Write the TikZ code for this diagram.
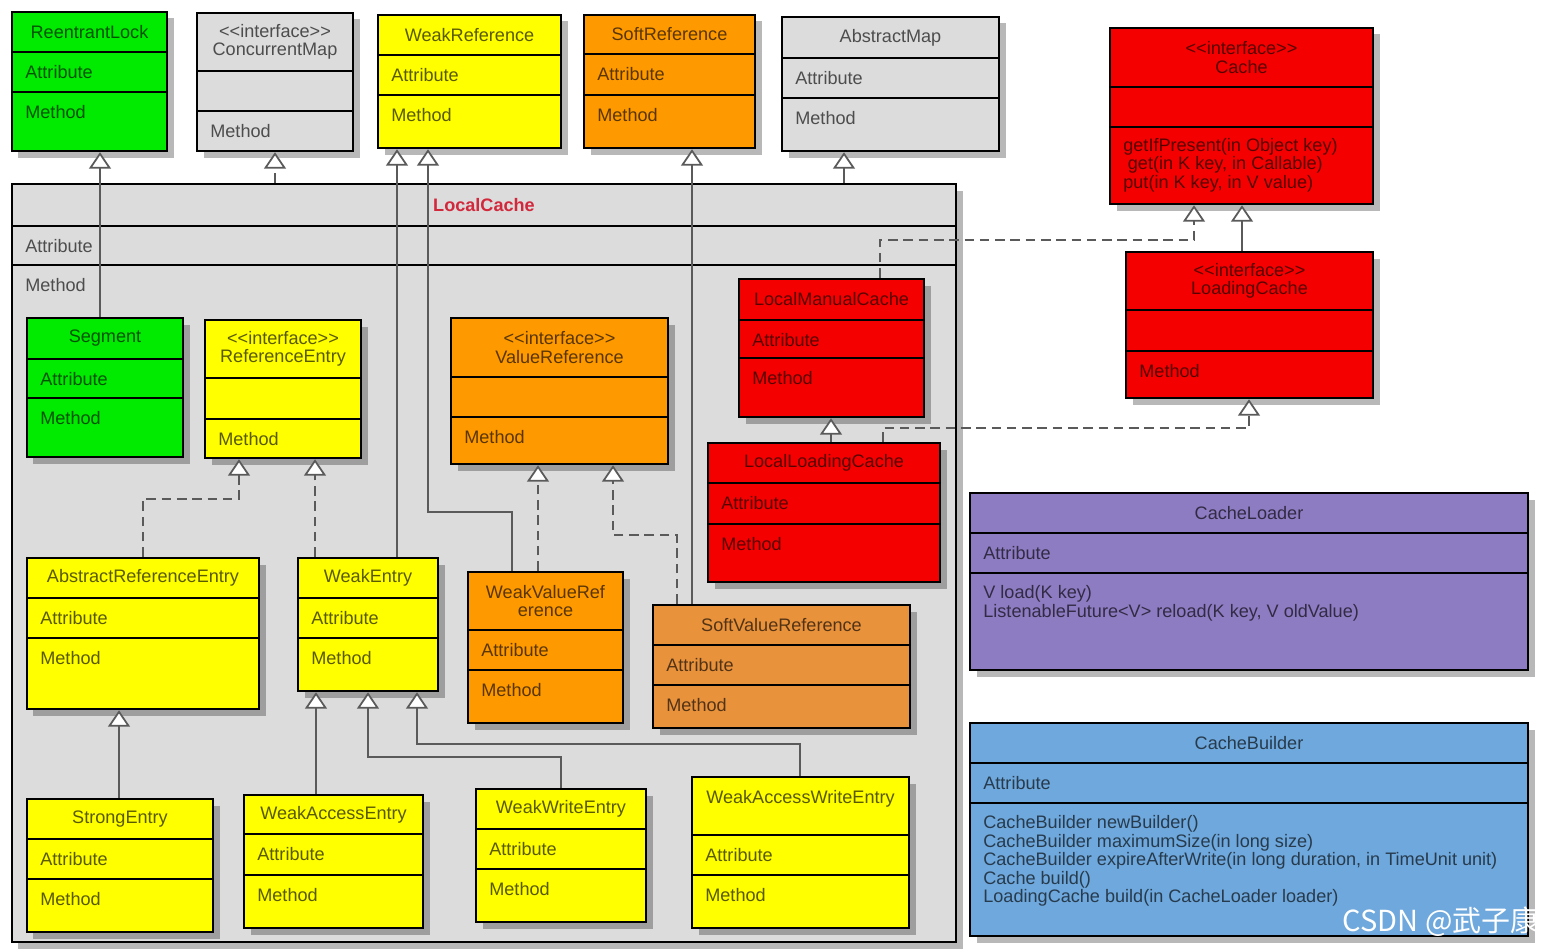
\documentclass[tikz,border=0pt]{standalone}
\usepackage{fontspec}
\setmainfont{Liberation Sans}
\newfontfamily\cjk{Noto Sans CJK SC}
\usetikzlibrary{arrows.meta, positioning, calc, fit, shadows}

\definecolor{umlgreen}{RGB}{0, 235, 0}
\definecolor{umlyellow}{RGB}{255, 255, 0}
\definecolor{umlorange}{RGB}{255, 153, 0}
\definecolor{umlsoft}{RGB}{233, 146, 60}
\definecolor{umlgray}{RGB}{220, 220, 220}
\definecolor{umlred}{RGB}{245, 0, 0}
\definecolor{umlpurple}{RGB}{142, 124, 195}
\definecolor{umlblue}{RGB}{111, 168, 220}
\definecolor{linegray}{RGB}{90, 90, 90}
\definecolor{lcred}{RGB}{210, 40, 60}
\colorlet{ink}{black}

\newcommand{\umlfont}{\fontsize{10.3}{10.6}\selectfont}
\newcommand{\stereo}[1]{<{}<#1>{}>}
% name, colour, x1, y1, x2, y2, first divider, second divider, title
\newcommand{\umlclass}[9]{%
  \node[cls, fill=#2, fit={(#3,#4) (#5,#6)}] (#1) {};
  \draw[sepline] (#3,#7) -- (#5,#7) (#3,#8) -- (#5,#8);
  \colorlet{ink}{#2!35!black}%
  \node[ttl] (#1-name) at ($(#3,#4)!0.5!(#5,#7)$) {#9};
  \coordinate (#1-a) at ($(#3,#7)+(13,20)$);
  \coordinate (#1-m) at ($(#3,#8)+(13,20)$);
}

\begin{document}
\begin{tikzpicture}[x=0.02cm, y=-0.02cm,
  cls/.style={draw=black, line width=1.4pt, inner sep=0pt,
              drop shadow={shadow xshift=0.13cm, shadow yshift=-0.13cm,
                           fill=black, opacity=0.28}},
  sepline/.style={draw=black, line width=1.4pt},
  ttl/.style={font=\umlfont, text=ink, align=center, inner sep=0pt},
  item/.style={font=\umlfont, text=ink, anchor=west, inner sep=0pt, align=left},
  inh/.style={draw=linegray, line width=1pt,
              -{Triangle[width=0.44cm, length=0.33cm, fill=white]}},
  impl/.style={inh, dash pattern=on 5.5pt off 3.2pt},
]
\useasboundingbox (0,0) rectangle (1544,950);

% Super types
\umlclass{lock}{umlgreen}{12}{12}{167}{151}{52}{92}{ReentrantLock}
\node[item] (lock-at) at (lock-a) {Attribute};
\node[item] (lock-me) at (lock-m) {Method};

\umlclass{cmap}{umlgray}{197}{13}{353}{151}{71}{111}{\stereo{interface}\\ConcurrentMap}
\node[item] (cmap-me) at (cmap-m) {Method};

\umlclass{wref}{umlyellow}{378}{15}{561}{148}{55}{95}{WeakReference}
\node[item] (wref-at) at (wref-a) {Attribute};
\node[item] (wref-me) at (wref-m) {Method};

\umlclass{sref}{umlorange}{584}{15}{755}{148}{54}{95}{SoftReference}
\node[item] (sref-at) at (sref-a) {Attribute};
\node[item] (sref-me) at (sref-m) {Method};

\umlclass{amap}{umlgray}{782}{17}{999}{151}{58}{98}{AbstractMap}
\node[item] (amap-at) at (amap-a) {Attribute};
\node[item] (amap-me) at (amap-m) {Method};

\umlclass{cache}{umlred}{1110}{28}{1373}{204}{87}{127}{\stereo{interface}\\Cache}
\node[item] (cache-me) at (1123,165)
  {getIfPresent(in Object key)\\\hspace*{0.25em}get(in K key, in Callable)\\put(in K key, in V value)};

\umlclass{lcache}{umlred}{1126}{252}{1373}{398}{310}{351}{\stereo{interface}\\LoadingCache}
\node[item] (lcache-me) at (lcache-m) {Method};

% LocalCache and its inner classes
\umlclass{lc}{umlgray}{12}{184}{956}{942}{226}{265}{\bfseries\color{lcred}LocalCache}
\node[item] (lc-at) at (lc-a) {Attribute};
\node[item] (lc-me) at (lc-m) {Method};

\umlclass{seg}{umlgreen}{27}{318}{183}{457}{359}{398}{Segment}
\node[item] (seg-at) at (seg-a) {Attribute};
\node[item] (seg-me) at (seg-m) {Method};

\umlclass{refe}{umlyellow}{205}{320}{361}{458}{378}{419}{\stereo{interface}\\ReferenceEntry}
\node[item] (refe-me) at (refe-m) {Method};

\umlclass{valref}{umlorange}{451}{318}{668}{464}{377}{417}{\stereo{interface}\\ValueReference}
\node[item] (valref-me) at (valref-m) {Method};

\umlclass{lmc}{umlred}{739}{279}{924}{417}{320}{358}{LocalManualCache}
\node[item] (lmc-at) at (lmc-a) {Attribute};
\node[item] (lmc-me) at (lmc-m) {Method};

\umlclass{llc}{umlred}{708}{443}{940}{582}{483}{524}{LocalLoadingCache}
\node[item] (llc-at) at (llc-a) {Attribute};
\node[item] (llc-me) at (llc-m) {Method};

\umlclass{are}{umlyellow}{27}{558}{259}{709}{598}{638}{AbstractReferenceEntry}
\node[item] (are-at) at (are-a) {Attribute};
\node[item] (are-me) at (are-m) {Method};

\umlclass{went}{umlyellow}{298}{558}{438}{691}{598}{638}{WeakEntry}
\node[item] (went-at) at (went-a) {Attribute};
\node[item] (went-me) at (went-m) {Method};

\umlclass{wvr}{umlorange}{468}{572}{623}{723}{630}{670}{WeakValueRef\\erence}
\node[item] (wvr-at) at (wvr-a) {Attribute};
\node[item] (wvr-me) at (wvr-m) {Method};

\umlclass{svr}{umlsoft}{653}{605}{910}{728}{645}{685}{SoftValueReference}
\node[item] (svr-at) at (svr-a) {Attribute};
\node[item] (svr-me) at (svr-m) {Method};

\umlclass{strong}{umlyellow}{27}{799}{213}{932}{839}{879}{StrongEntry}
\node[item] (strong-at) at (strong-a) {Attribute};
\node[item] (strong-me) at (strong-m) {Method};

\umlclass{wae}{umlyellow}{244}{795}{423}{928}{834}{875}{WeakAccessEntry}
\node[item] (wae-at) at (wae-a) {Attribute};
\node[item] (wae-me) at (wae-m) {Method};

\umlclass{wwe}{umlyellow}{476}{789}{646}{922}{829}{869}{WeakWriteEntry}
\node[item] (wwe-at) at (wwe-a) {Attribute};
\node[item] (wwe-me) at (wwe-m) {Method};

\umlclass{wawe}{umlyellow}{692}{777}{909}{928}{835}{875}{WeakAccessWriteEntry\\ \mbox{}}
\node[item] (wawe-at) at (wawe-a) {Attribute};
\node[item] (wawe-me) at (wawe-m) {Method};

% Loader and builder
\umlclass{loader}{umlpurple}{970}{493}{1528}{670}{533}{573}{CacheLoader}
\node[item] (loader-at) at (loader-a) {Attribute};
\node[item] (loader-me) at (983,603)
  {V load(K key)\\ListenableFuture<V> reload(K key, V oldValue)};

\umlclass{builder}{umlblue}{970}{723}{1528}{936}{763}{803}{CacheBuilder}
\node[item] (builder-at) at (builder-a) {Attribute};
\node[item] (builder-me) at (983,861)
  {CacheBuilder newBuilder()\\CacheBuilder maximumSize(in long size)\\
   CacheBuilder expireAfterWrite(in long duration, in TimeUnit unit)\\
   Cache build()\\LoadingCache build(in CacheLoader loader)};

% Generalisations and realisations
\draw[inh] (100,0 |- seg.north) -- (100,0 |- lock.south);
\draw[impl] (275,0 |- lc.north) -- (275,0 |- cmap.south);
\draw[inh] (397,0 |- went.north) -- (397,0 |- wref.south);
\draw[inh] (512,0 |- wvr.north) |- (428,512) -- (428,0 |- wref.south);
\draw[inh] (692,0 |- svr.north) -- (692,0 |- sref.south);
\draw[inh] (844,0 |- lc.north) -- (844,0 |- amap.south);
\draw[impl] (880,0 |- lmc.north) |- (1194,240) -- (1194,0 |- cache.south);
\draw[inh] (1242,0 |- lcache.north) -- (1242,0 |- cache.south);
\draw[inh] (831,0 |- llc.north) -- (831,0 |- lmc.south);
\draw[impl] (883,0 |- llc.north) |- (1249,428) -- (1249,0 |- lcache.south);
\draw[impl] (143,0 |- are.north) |- (239,499) -- (239,0 |- refe.south);
\draw[impl] (315,0 |- went.north) -- (315,0 |- refe.south);
\draw[impl] (538,0 |- wvr.north) -- (538,0 |- valref.south);
\draw[impl] (677,0 |- svr.north) |- (613,535) -- (613,0 |- valref.south);
\draw[inh] (119,0 |- strong.north) -- (119,0 |- are.south);
\draw[inh] (316,0 |- wae.north) -- (316,0 |- went.south);
\draw[inh] (561,0 |- wwe.north) |- (368,757) -- (368,0 |- went.south);
\draw[inh] (800,0 |- wawe.north) |- (417,744) -- (417,0 |- went.south);

\node[font=\cjk\fontsize{16.5}{16.5}\selectfont, text=white, anchor=east, inner sep=0pt]
  (mark) at (1540,922) {CSDN @武子康};
\end{tikzpicture}
\end{document}
